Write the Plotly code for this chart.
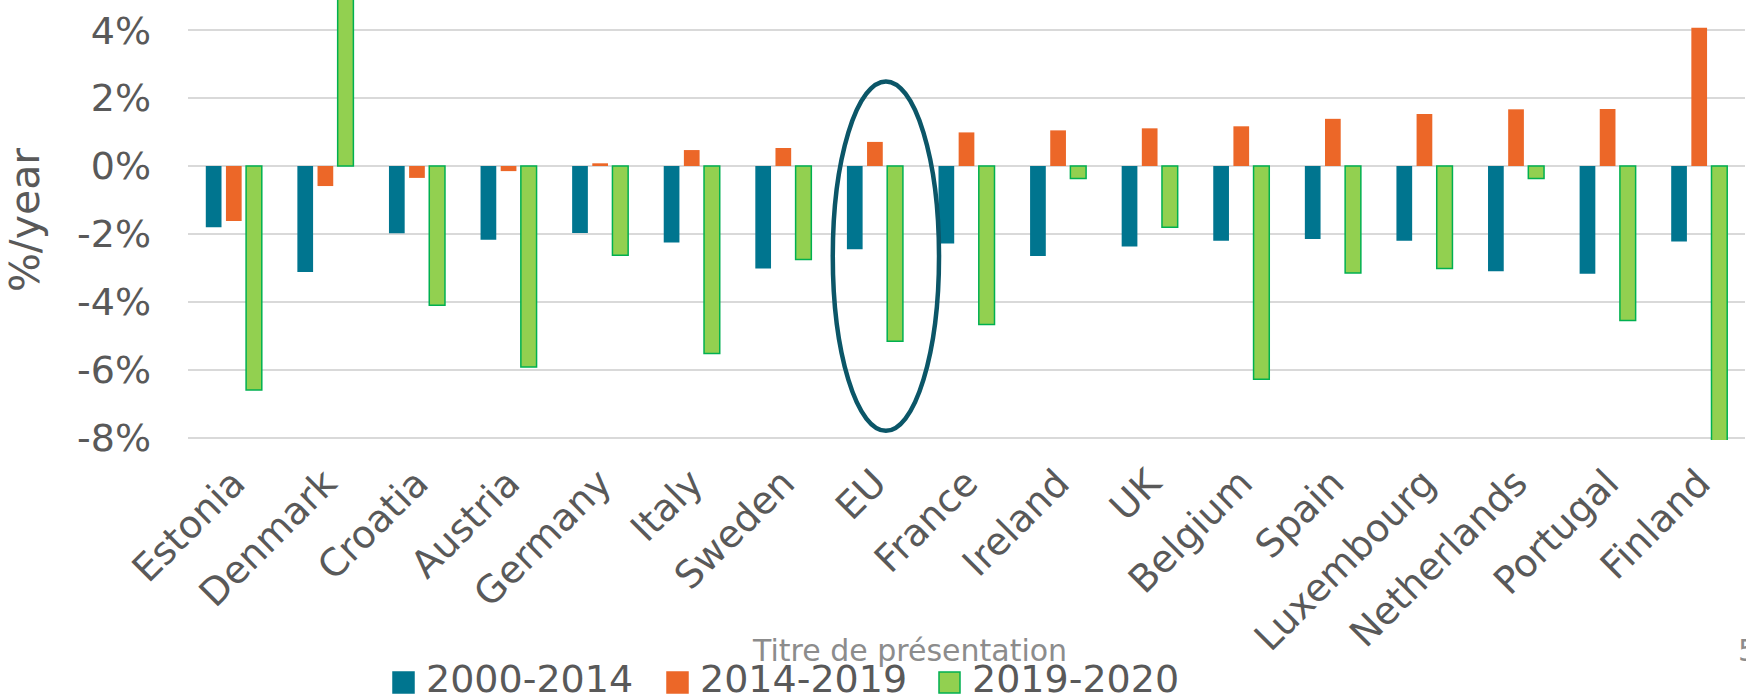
import plotly.graph_objects as go

categories = ["Estonia", "Denmark", "Croatia", "Austria", "Germany", "Italy", "Sweden", "EU",
              "France", "Ireland", "UK", "Belgium", "Spain", "Luxembourg", "Netherlands",
              "Portugal", "Finland"]
s2000_2014 = [-1.80, -3.12, -1.98, -2.17, -1.97, -2.25, -3.02, -2.45, -2.28, -2.65, -2.37,
              -2.20, -2.15, -2.20, -3.10, -3.17, -2.22]
s2014_2019 = [-1.62, -0.59, -0.35, -0.15, 0.08, 0.47, 0.53, 0.71, 0.99, 1.05, 1.11,
              1.17, 1.39, 1.53, 1.67, 1.68, 4.07]
s2019_2020 = [-6.60, 6.00, -4.10, -5.92, -2.63, -5.52, -2.75, -5.16, -4.67, -0.37, -1.80,
              -6.28, -3.15, -3.02, -0.37, -4.55, -8.50]
series_names = ["2000-2014", "2014-2019", "2019-2020"]
y_ticks = [-8, -6, -4, -2, 0, 2, 4]

W, H = 1746, 698
L, R, T, B = 188, 1, 0, 258
PW, PH = W - L - R, H - T - B

def px(x):
    return (x - L) / PW

def py(y):
    return (H - B - y) / PH

BLUE = "#00758F"
ORANGE = "#EC6728"
GREEN = "#92D050"
GREEN_EDGE = "#00B050"
TXT = "#595959"
FONT = "DejaVu Sans"

fig = go.Figure()
fig.add_trace(go.Bar(x=categories, y=s2000_2014, name=series_names[0],
                     marker=dict(color=BLUE, line=dict(width=0)), showlegend=False))
fig.add_trace(go.Bar(x=categories, y=s2014_2019, name=series_names[1],
                     marker=dict(color=ORANGE, line=dict(width=0)), showlegend=False))
fig.add_trace(go.Bar(x=categories, y=s2019_2020, name=series_names[2],
                     marker=dict(color=GREEN, line=dict(width=1.5, color=GREEN_EDGE)), showlegend=False))

# Ellipse around EU
eu = categories.index("EU")
fig.add_shape(type="circle", xref="x", yref="y",
              x0=eu - 0.46, x1=eu + 0.70, y0=-7.8, y1=2.49,
              line=dict(color="#0B5668", width=4.5), layer="above")

# Manual legend
legend_items = [(393, BLUE, BLUE), (667, ORANGE, ORANGE), (939, GREEN, GREEN_EDGE)]
for (x0, fill, edge), name in zip(legend_items, series_names):
    fig.add_shape(type="rect", xref="paper", yref="paper",
                  x0=px(x0), x1=px(x0 + 21), y0=py(693), y1=py(672),
                  fillcolor=fill, line=dict(color=edge, width=1.5))
    fig.add_annotation(xref="paper", yref="paper", x=px(x0 + 31), y=py(679),
                       text=name, showarrow=False, xanchor="left", yanchor="middle",
                       font=dict(family=FONT, size=38, color=TXT))

fig.add_annotation(xref="paper", yref="paper", x=px(909), y=py(650),
                   text="Titre de présentation", showarrow=False,
                   xanchor="center", yanchor="middle",
                   font=dict(family=FONT, size=30, color="#8C8C8C"))
fig.add_annotation(xref="paper", yref="paper", x=px(1736), y=py(650),
                   text="5", showarrow=False, xanchor="left", yanchor="middle",
                   font=dict(family=FONT, size=30, color="#8C8C8C"))

fig.update_layout(
    width=W, height=H,
    margin=dict(l=L, r=R, t=T, b=B, pad=0),
    paper_bgcolor="white", plot_bgcolor="white",
    barmode="group", bargap=0.34, bargroupgap=0.22,
    font=dict(family=FONT, color=TXT),
    showlegend=False,
)
fig.update_yaxes(range=[-8.07, 4.89], tickvals=y_ticks,
                 ticktext=[f"{v}%" for v in y_ticks],
                 showgrid=True, gridcolor="#D9D9D9", gridwidth=1.5,
                 zeroline=False, showline=False, ticks="",
                 tickfont=dict(family=FONT, size=38, color=TXT),
                 ticklabelstandoff=36,
                 title=dict(text="%/year", font=dict(family=FONT, size=41, color=TXT), standoff=24))
fig.update_xaxes(tickangle=-45, showgrid=False, showline=False, ticks="",
                 tickfont=dict(family=FONT, size=38, color=TXT),
                 ticklabelstandoff=12)

fig.write_html("out.html",
               config={"displayModeBar": False},
               post_script="document.body.style.margin='0';document.body.style.padding='0';"
                           "document.body.style.overflow='hidden';")
